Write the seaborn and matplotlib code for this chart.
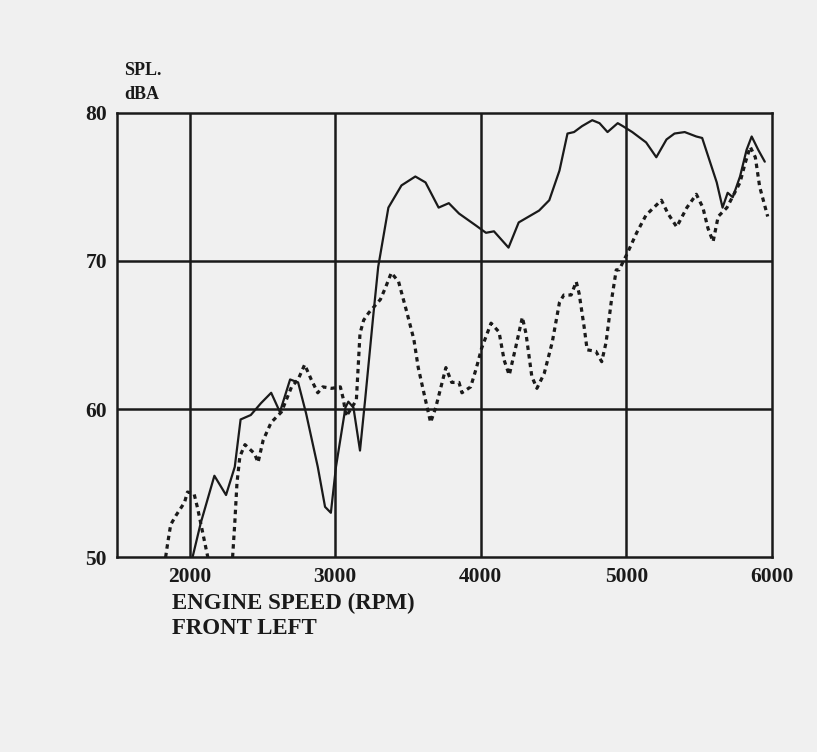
import matplotlib
matplotlib.use("Agg")
import matplotlib.pyplot as plt
import seaborn as sns
import pandas as pd

# Solid trace (SPL, dBA vs engine speed)
solid_rpm = [2020, 2076, 2170, 2250, 2310, 2350, 2420, 2490, 2560, 2620,
             2690, 2745, 2800, 2880, 2930, 2970, 3005, 3070, 3090, 3125,
             3170, 3205, 3260, 3295, 3365, 3455, 3550, 3620, 3710, 3780,
             3850, 3965, 4035, 4090, 4190, 4260, 4330, 4400, 4470, 4540,
             4595, 4640, 4695, 4765, 4815, 4870, 4940, 4975, 5040, 5135,
             5205, 5275, 5330, 5400, 5480, 5520, 5570, 5620, 5660, 5695,
             5730, 5780, 5825, 5860, 5905, 5950]
solid_db = [50.0, 52.3, 55.5, 54.2, 56.1, 59.3, 59.6, 60.4, 61.1, 59.8,
            62.0, 61.8, 59.7, 56.1, 53.4, 53.0, 56.1, 60.1, 60.5, 60.1,
            57.2, 60.6, 66.2, 69.6, 73.6, 75.1, 75.7, 75.3, 73.6, 73.9,
            73.2, 72.4, 71.9, 72.0, 70.9, 72.6, 73.0, 73.4, 74.1, 76.1,
            78.6, 78.7, 79.1, 79.5, 79.3, 78.7, 79.3, 79.1, 78.7, 78.0,
            77.0, 78.2, 78.6, 78.7, 78.4, 78.3, 76.8, 75.3, 73.6, 74.6,
            74.3, 75.7, 77.5, 78.4, 77.5, 76.7]

# Dashed trace, first short piece at low rpm
dashed_low_rpm = [1835, 1850, 1870, 1905, 1965, 1985, 2030, 2055, 2110, 2125]
dashed_low_db = [50.0, 51.0, 52.2, 52.8, 53.7, 54.4, 54.3, 53.3, 50.7, 50.0]

# Dashed trace, main piece
dashed_rpm = [2295, 2310, 2325, 2345, 2380, 2445, 2470, 2505, 2560, 2630,
              2700, 2745, 2790, 2835, 2880, 2915, 2975, 3035, 3055, 3075,
              3145, 3160, 3170, 3195, 3230, 3310, 3345, 3385, 3435, 3490,
              3540, 3570, 3620, 3655, 3690, 3760, 3800, 3850, 3870, 3930,
              3970, 4005, 4070, 4125, 4160, 4195, 4240, 4285, 4310, 4350,
              4385, 4435, 4490, 4540, 4570, 4620, 4655, 4675, 4710, 4730,
              4790, 4830, 4860, 4895, 4930, 4950, 5005, 5070, 5135, 5240,
              5285, 5345, 5415, 5480, 5525, 5560, 5595, 5630, 5690, 5780,
              5815, 5850, 5885, 5915, 5970]
dashed_db = [50.0, 52.3, 55.0, 56.8, 57.6, 57.0, 56.4, 57.9, 59.1, 59.8,
             61.5, 62.0, 63.0, 62.0, 61.1, 61.5, 61.4, 61.5, 60.7, 59.5,
             60.6, 63.3, 65.1, 66.0, 66.5, 67.4, 68.2, 69.2, 68.6, 66.6,
             64.7, 62.8, 60.6, 59.1, 60.1, 62.8, 61.8, 61.8, 61.1, 61.5,
             62.8, 64.1, 65.8, 65.2, 63.3, 62.3, 64.2, 66.2, 65.1, 62.2,
             61.4, 62.4, 64.5, 67.2, 67.7, 67.7, 68.6, 67.8, 65.5, 64.0,
             63.9, 63.2, 64.5, 67.2, 69.4, 69.4, 70.5, 71.9, 73.1, 74.1,
             73.2, 72.3, 73.6, 74.5, 73.6, 72.2, 71.3, 73.0, 73.6, 75.3,
             76.6, 77.7, 77.0, 75.0, 73.0]

x_ticks = [2000, 3000, 4000, 5000, 6000]
y_ticks = [50, 60, 70, 80]


def main():
    sns.set_style("white")
    plt.rcParams['font.family'] = ['Liberation Serif', 'DejaVu Serif']
    plt.rcParams['font.weight'] = 'bold'

    ink = '#1a1a1a'
    bg = '#f0f0f0'
    fig = plt.figure(figsize=(8.17, 7.52), dpi=100, facecolor=bg)
    ax = fig.add_axes([0.143, 0.259, 0.802, 0.591])
    ax.set_facecolor(bg)

    solid = pd.DataFrame({'rpm': solid_rpm, 'db': solid_db})
    dashed = pd.concat([
        pd.DataFrame({'rpm': dashed_low_rpm, 'db': dashed_low_db, 'seg': 0}),
        pd.DataFrame({'rpm': dashed_rpm, 'db': dashed_db, 'seg': 1}),
    ])

    sns.lineplot(data=solid, x='rpm', y='db', color=ink, lw=1.6,
                 estimator=None, sort=False, ax=ax)
    sns.lineplot(data=dashed, x='rpm', y='db', units='seg', estimator=None,
                 sort=False, color=ink, lw=2.3, ax=ax,
                 linestyle=(0, (1.4, 1.3)))

    # grid lines as on the original chart paper
    for xv in x_ticks[:-1]:
        ax.axvline(xv, color=ink, lw=1.8, zorder=1)
    for yv in [60, 70]:
        ax.axhline(yv, color=ink, lw=1.8, zorder=1)

    ax.set_xlim(1500, 6000)
    ax.set_ylim(50, 80)
    ax.set_xticks(x_ticks)
    ax.set_yticks(y_ticks)
    ax.tick_params(length=0, labelsize=15.5, colors=ink)
    ax.tick_params(axis='x', pad=7)
    ax.tick_params(axis='y', pad=7)
    for lab in ax.get_xticklabels() + ax.get_yticklabels():
        lab.set_fontweight('bold')
    for sp in ax.spines.values():
        sp.set_color(ink)
        sp.set_linewidth(1.8)

    ax.set_xlabel('')
    ax.set_ylabel('')
    fig.text(0.152, 0.863, 'SPL.\ndBA', fontsize=13, fontweight='bold',
             color=ink, ha='left', va='bottom', linespacing=1.55)
    fig.text(0.210, 0.211, 'ENGINE SPEED (RPM)\nFRONT LEFT', fontsize=16.5,
             fontweight='bold', color=ink, ha='left', va='top',
             linespacing=1.2)

    fig.savefig('out.png', dpi=100, facecolor=bg)


if __name__ == "__main__":
    main()
